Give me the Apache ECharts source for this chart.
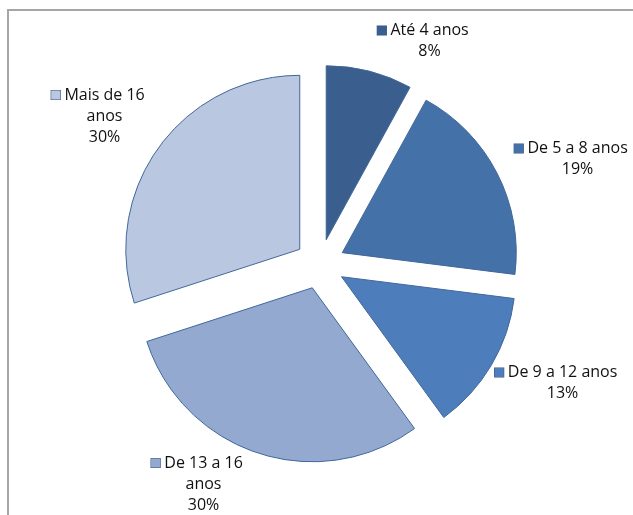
<!DOCTYPE html>
<html>
<head>
<meta charset="utf-8">
<script src="https://cdn.jsdelivr.net/npm/echarts@6/dist/echarts.min.js"></script>
<style>
  html, body { margin: 0; padding: 0; background: #fff; }
  #frame {
    position: absolute; left: 7px; top: 9px; width: 624px; height: 520px;
    border-left: 2px solid #a6a6a6; border-top: 2px solid #a6a6a6; border-right: 1px solid #e4e4e4;
  }
  #pie { position: absolute; left: 0; top: 0; width: 633px; height: 515px; }
</style>
</head>
<body>
<div id="frame"></div>
<div id="pie"></div>
<script>
  // faixas etárias e participação (%)
  const categories = ['Até 4 anos', 'De 5 a 8 anos', 'De 9 a 12 anos', 'De 13 a 16 anos', 'Mais de 16 anos']
  const values = [8, 19, 13, 30, 30]
  const colors = ['#3a5e8d', '#4371a8', '#4d7ebb', '#93a9d0', '#b9c7e1']

  // centro de cada bloco de rótulo
  const labelPos = [[423, 41], [571, 159], [556, 383], [197, 484], [98, 116]]

  const myChart = echarts.init(document.getElementById('pie'), null, { renderer: 'canvas' })

  const rich = {
    t: { fontFamily: 'Open Sans', fontSize: 16, color: '#111', lineHeight: 21, align: 'center' },
    p: { width: 13, height: 9 }
  }
  colors.forEach((c, i) => {
    rich['k' + i] = { width: 9, height: 9, backgroundColor: c, borderColor: '#33557f', borderWidth: 0.6 }
  })

  const data = categories.map((name, i) => ({
    name: name,
    value: values[i],
    itemStyle: { color: colors[i] }
  }))

  // quebra de linha como no Excel: nomes longos passam "anos" para baixo
  const fmt = function (p) {
    let name = p.name
    if (name.length >= 15) {
      const k = name.lastIndexOf(' ')
      name = name.slice(0, k) + '\n' + name.slice(k + 1)
    }
    const lines = name.split('\n')
    let out = '{k' + p.dataIndex + '|}{t| ' + lines[0] + '}'
    for (let j = 1; j < lines.length; j++) out += '\n{p|}{t|' + lines[j] + '}'
    return out + '\n{p|}{t|' + p.value + '%}'
  }

  myChart.setOption({
    animation: false,
    series: [
      {
        type: 'pie',
        center: [320, 264],
        radius: [0, 174],
        startAngle: 90,
        clockwise: true,
        selectedMode: 'multiple',
        selectedOffset: 25,
        emphasis: { disabled: true },
        select: { itemStyle: { borderColor: '#41679a', borderWidth: 1 } },
        itemStyle: { borderColor: '#41679a', borderWidth: 1 },
        label: { show: false },
        labelLine: { show: false },
        data: data.map(d => Object.assign({ selected: true }, d))
      },
      {
        // só os rótulos (fatias transparentes, sem deslocamento)
        type: 'pie',
        center: [320, 264],
        radius: [0, 174],
        startAngle: 90,
        silent: true,
        emphasis: { disabled: true },
        itemStyle: { color: 'rgba(0,0,0,0)', borderWidth: 0 },
        label: {
          show: true,
          position: 'inside',
          overflow: 'none',
          rich: rich,
          formatter: fmt
        },
        labelLine: { show: false },
        labelLayout: function (params) {
          const pos = labelPos[params.dataIndex]
          return { x: pos[0], y: pos[1], align: 'center', verticalAlign: 'middle' }
        },
        data: data.map(d => ({ name: d.name, value: d.value }))
      }
    ]
  })
</script>
</body>
</html>
